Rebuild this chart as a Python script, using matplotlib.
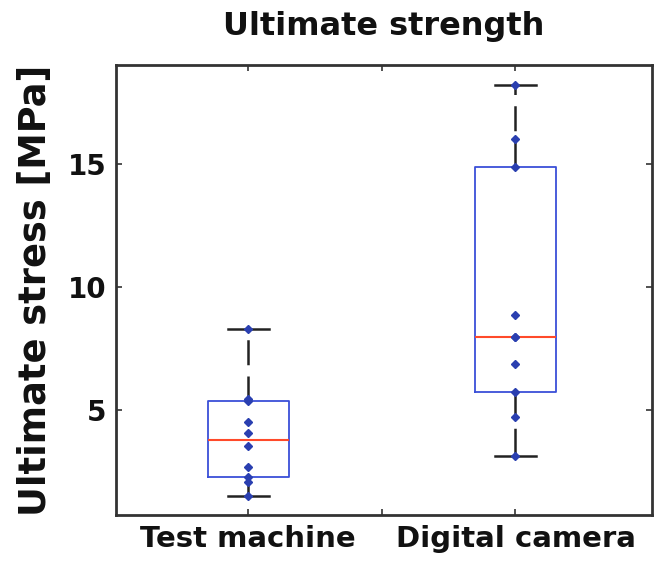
import numpy as np
import matplotlib.pyplot as plt

plt.rcParams['font.family'] = ['DejaVu Sans']

# ultimate stress [MPa] measured with each method
test_machine = [1.54, 2.10, 2.28, 2.71, 3.53, 4.06, 4.53, 5.38, 5.45, 8.29]
digital_camera = [3.13, 4.74, 5.75, 6.88, 7.99, 7.99, 8.85, 14.87, 16.02, 18.18]
labels = ['Test machine', 'Digital camera']
groups = [test_machine, digital_camera]


def box_stats(vals, label):
    # quartiles the way MATLAB's prctile does them
    v = np.sort(np.asarray(vals))
    q1, med, q3 = np.percentile(v, [25, 50, 75], method='hazen')
    iqr = q3 - q1
    lo = v[v >= q1 - 1.5 * iqr].min()
    hi = v[v <= q3 + 1.5 * iqr].max()
    out = v[(v < lo) | (v > hi)]
    return dict(med=med, q1=q1, q3=q3, whislo=lo, whishi=hi, fliers=out, label=label)


stats = [box_stats(g, l) for g, l in zip(groups, labels)]

fig = plt.figure(figsize=(6.59, 5.62), dpi=100)
ax = fig.add_axes([0.176, 0.0836, 0.813, 0.8004])

ax.bxp(stats, positions=[1, 2], widths=0.305, showfliers=False,
       boxprops=dict(color='#3a4fd8', linewidth=1.3),
       medianprops=dict(color='#ff4a2a', linewidth=1.5),
       whiskerprops=dict(color='#222222', linewidth=1.8, linestyle=(0, (10, 4.5))),
       capprops=dict(color='#222222', linewidth=1.8),
       capwidths=0.155)

for i, g in enumerate(groups):
    ax.plot(np.full(len(g), i + 1), g, linestyle='none', marker='D',
            markersize=4.5, color='#2a3fb0', zorder=3)

ax.set_xlim(0.505, 2.51)
ax.set_ylim(0.75, 19.0)
ax.set_xticks([1, 1.5, 2])
ax.set_xticklabels(['Test machine', '', 'Digital camera'])
ax.set_yticks([5, 10, 15])

ax.tick_params(direction='in', length=4, width=1.2, top=True, right=True,
               colors='#333333', pad=7)
for lab in ax.get_xticklabels():
    lab.set_fontsize(21)
    lab.set_fontweight('bold')
    lab.set_color('#111111')
for lab in ax.get_yticklabels():
    lab.set_fontsize(20)
    lab.set_fontweight('bold')
    lab.set_color('#111111')
ax.tick_params(axis='x', pad=7)

for s in ax.spines.values():
    s.set_linewidth(2.0)
    s.set_color('#333333')

ax.set_title('Ultimate strength', fontsize=23, fontweight='bold', pad=22, color='#111111')
ax.set_ylabel('Ultimate stress [MPa]', fontsize=26.5, fontweight='bold', labelpad=10, color='#111111')

fig.savefig('out.png', dpi=100)
